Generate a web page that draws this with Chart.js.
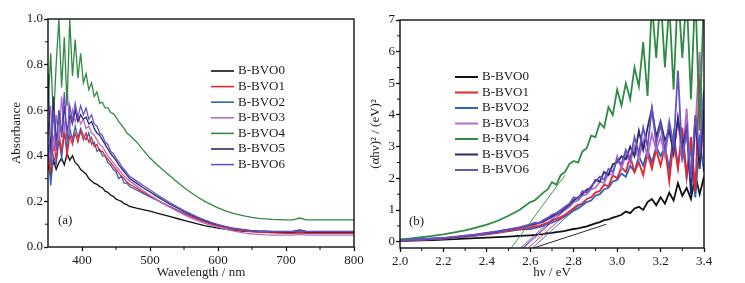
<!DOCTYPE html>
<html>
<head>
<meta charset="utf-8">
<script src="https://cdn.jsdelivr.net/npm/chart.js@4.4.1/dist/chart.umd.min.js"></script>
<style>
  body { margin: 0; background: #fff; }
  #wrap { position: relative; width: 745px; height: 283px; }
  canvas { position: absolute; top: 0; }
  #abs-chart { left: 0; }
  #tauc-chart { left: 362px; }
</style>
</head>
<body>
<div id="wrap">
  <canvas id="abs-chart" width="375" height="283"></canvas>
  <canvas id="tauc-chart" width="383" height="283"></canvas>
</div>
<script>
const seriesNames = ['B-BVO0', 'B-BVO1', 'B-BVO2', 'B-BVO3', 'B-BVO4', 'B-BVO5', 'B-BVO6']
const seriesColors = ['#111111', '#e3262c', '#2f62bd', '#b46cc9', '#2f8a43', '#2a2b6c', '#6553c4']
const drawOrder = [7, 5, 6, 4, 3, 2, 1]

// (a) absorbance vs wavelength (nm)
const wavelength = [350, 354, 358, 362, 366, 370, 374, 378, 382, 386, 390, 394, 398, 402, 406, 410, 414, 418, 422, 426,
  430, 434, 438, 442, 446, 450, 454, 458, 462, 466, 470,
  480, 490, 500, 510, 520, 530, 540, 550, 560, 570, 580, 590, 600, 610, 620, 630, 640, 650, 660, 670,
  680, 690, 700, 710, 720, 730, 740, 750, 760, 770, 780, 790, 800]

const absB0 = [0.36, 0.31, 0.38, 0.34, 0.37, 0.39, 0.36, 0.41, 0.38, 0.40, 0.37, 0.36, 0.34, 0.33, 0.32, 0.30, 0.29, 0.28, 0.275, 0.265,
  0.26, 0.245, 0.24, 0.228, 0.222, 0.21, 0.205, 0.20, 0.19, 0.186, 0.178,
  0.17, 0.164, 0.157, 0.149, 0.141, 0.133, 0.125, 0.117, 0.109, 0.101, 0.094, 0.088, 0.083, 0.078, 0.074, 0.071, 0.069, 0.067, 0.066, 0.065,
  0.064, 0.064, 0.064, 0.064, 0.066, 0.064, 0.064, 0.064, 0.064, 0.064, 0.064, 0.064, 0.064]
const absB1 = [0.40, 0.33, 0.47, 0.38, 0.50, 0.42, 0.52, 0.40, 0.49, 0.45, 0.50, 0.46, 0.51, 0.47, 0.50, 0.46, 0.48, 0.44, 0.45, 0.42,
  0.42, 0.40, 0.385, 0.37, 0.355, 0.34, 0.325, 0.31, 0.30, 0.285, 0.275,
  0.258, 0.24, 0.224, 0.207, 0.19, 0.175, 0.16, 0.146, 0.133, 0.121, 0.11, 0.10, 0.092, 0.085, 0.079, 0.074, 0.07, 0.067, 0.065, 0.063,
  0.062, 0.061, 0.06, 0.06, 0.062, 0.06, 0.06, 0.06, 0.06, 0.06, 0.06, 0.06, 0.06]
const absB2 = [0.45, 0.27, 0.40, 0.36, 0.47, 0.39, 0.50, 0.43, 0.52, 0.47, 0.53, 0.48, 0.52, 0.49, 0.47, 0.50, 0.45, 0.46, 0.42, 0.43,
  0.40, 0.40, 0.37, 0.36, 0.34, 0.33, 0.30, 0.31, 0.28, 0.28, 0.265,
  0.25, 0.235, 0.22, 0.205, 0.19, 0.176, 0.162, 0.149, 0.137, 0.125, 0.114, 0.104, 0.095, 0.088, 0.082, 0.077, 0.074, 0.071, 0.069, 0.068,
  0.067, 0.067, 0.067, 0.067, 0.072, 0.067, 0.067, 0.067, 0.067, 0.067, 0.067, 0.067, 0.067]
const absB3 = [0.50, 0.62, 0.42, 0.58, 0.47, 0.66, 0.50, 0.70, 0.52, 0.60, 0.55, 0.58, 0.54, 0.56, 0.52, 0.53, 0.50, 0.49, 0.47, 0.45,
  0.44, 0.42, 0.40, 0.385, 0.37, 0.355, 0.34, 0.325, 0.31, 0.30, 0.29,
  0.268, 0.247, 0.227, 0.208, 0.19, 0.173, 0.157, 0.142, 0.128, 0.116, 0.105, 0.095, 0.087, 0.079, 0.072, 0.066, 0.061, 0.057, 0.055, 0.053,
  0.052, 0.052, 0.052, 0.052, 0.055, 0.052, 0.052, 0.052, 0.052, 0.052, 0.052, 0.052, 0.052]
const absB4 = [0.60, 0.85, 0.55, 0.80, 1.0, 0.70, 0.92, 0.62, 1.0, 0.75, 0.91, 0.74, 0.85, 0.72, 0.76, 0.69, 0.72, 0.66, 0.68, 0.63,
  0.635, 0.61, 0.61, 0.59, 0.585, 0.57, 0.55, 0.535, 0.52, 0.50, 0.49,
  0.462, 0.425, 0.39, 0.362, 0.336, 0.31, 0.285, 0.261, 0.239, 0.219, 0.201, 0.186, 0.172, 0.16, 0.15, 0.142, 0.135, 0.13, 0.126, 0.123,
  0.121, 0.12, 0.119, 0.119, 0.127, 0.119, 0.119, 0.119, 0.119, 0.119, 0.119, 0.119, 0.119]
const absB5 = [0.76, 0.40, 0.66, 0.45, 0.60, 0.48, 0.62, 0.50, 0.58, 0.54, 0.60, 0.55, 0.58, 0.56, 0.57, 0.54, 0.55, 0.52, 0.50, 0.49,
  0.47, 0.45, 0.43, 0.41, 0.395, 0.38, 0.36, 0.345, 0.33, 0.315, 0.30,
  0.28, 0.26, 0.241, 0.222, 0.204, 0.187, 0.171, 0.156, 0.142, 0.129, 0.117, 0.106, 0.097, 0.09, 0.084, 0.079, 0.075, 0.072, 0.07, 0.069,
  0.068, 0.068, 0.068, 0.068, 0.075, 0.068, 0.068, 0.068, 0.068, 0.068, 0.068, 0.068, 0.068]
const absB6 = [0.55, 0.36, 0.60, 0.42, 0.58, 0.50, 0.68, 0.46, 0.62, 0.55, 0.63, 0.57, 0.62, 0.58, 0.61, 0.56, 0.58, 0.54, 0.53, 0.50,
  0.49, 0.46, 0.45, 0.42, 0.41, 0.39, 0.375, 0.355, 0.34, 0.325, 0.31,
  0.29, 0.27, 0.25, 0.23, 0.211, 0.193, 0.176, 0.16, 0.145, 0.131, 0.119, 0.108, 0.098, 0.09, 0.083, 0.078, 0.074, 0.071, 0.069, 0.068,
  0.067, 0.067, 0.067, 0.067, 0.071, 0.067, 0.067, 0.067, 0.067, 0.067, 0.067, 0.067, 0.067]
const absSeries = [absB0, absB1, absB2, absB3, absB4, absB5, absB6]

// (b) Tauc plot, (ahv)^2 vs hv (eV)
const energy = [2.0, 2.05, 2.1, 2.15, 2.2, 2.25, 2.3, 2.35, 2.4, 2.45, 2.5, 2.55,
  2.60, 2.62, 2.64, 2.66, 2.68, 2.70, 2.72, 2.74, 2.76, 2.78, 2.80, 2.82, 2.84, 2.86, 2.88, 2.90, 2.92, 2.94, 2.96, 2.98,
  3.00, 3.02, 3.04, 3.06, 3.08, 3.10, 3.12, 3.14, 3.16, 3.18, 3.20, 3.22, 3.24, 3.26, 3.28, 3.30, 3.32, 3.34, 3.36, 3.38, 3.40]

const taucB0 = [0.02, 0.03, 0.04, 0.05, 0.065, 0.08, 0.095, 0.11, 0.125, 0.145, 0.16, 0.18,
  0.2, 0.21, 0.23, 0.24, 0.27, 0.28, 0.3, 0.32, 0.34, 0.37, 0.4, 0.42, 0.45, 0.48, 0.53, 0.58, 0.62, 0.68, 0.7, 0.76,
  0.8, 0.85, 0.95, 0.9, 1.05, 1.1, 1.0, 1.25, 1.35, 1.15, 1.4, 1.2, 1.55, 1.3, 1.85, 1.45, 1.7, 1.35, 2.1, 1.5, 2.05]
const taucB1 = [0.03, 0.045, 0.06, 0.08, 0.1, 0.13, 0.16, 0.2, 0.24, 0.29, 0.34, 0.4,
  0.45, 0.48, 0.5, 0.55, 0.6, 0.68, 0.72, 0.78, 0.85, 0.95, 1.05, 1.15, 1.2, 1.35, 1.4, 1.55, 1.6, 1.8, 1.75, 2.1,
  2.0, 2.35, 2.2, 2.7, 2.2, 2.5, 2.1, 2.8, 2.3, 2.9, 2.4, 3.0, 1.9, 3.2, 2.3, 3.6, 2.1, 3.3, 1.6, 5.3, 2.8]
const taucB2 = [0.03, 0.045, 0.06, 0.08, 0.1, 0.125, 0.155, 0.19, 0.23, 0.28, 0.33, 0.38,
  0.4, 0.43, 0.46, 0.5, 0.55, 0.6, 0.66, 0.72, 0.8, 0.88, 0.98, 1.05, 1.15, 1.25, 1.3, 1.45, 1.5, 1.65, 1.7, 1.9,
  1.95, 2.15, 2.05, 2.4, 2.2, 2.7, 2.4, 2.9, 2.5, 3.0, 2.7, 3.0, 2.3, 3.4, 2.4, 3.3, 2.0, 3.0, 1.4, 3.2, 2.2]
const taucB3 = [0.04, 0.05, 0.07, 0.09, 0.11, 0.14, 0.17, 0.21, 0.26, 0.31, 0.37, 0.43,
  0.5, 0.54, 0.58, 0.62, 0.7, 0.76, 0.84, 0.9, 1.0, 1.1, 1.25, 1.3, 1.45, 1.5, 1.65, 1.7, 1.9, 1.85, 2.15, 2.1,
  2.7, 2.3, 2.75, 2.5, 3.0, 2.6, 3.2, 2.7, 3.4, 2.9, 3.3, 2.7, 3.6, 2.8, 3.9, 2.5, 4.2, 1.8, 3.5, 6.0, 2.6]
const taucB4 = [0.07, 0.1, 0.14, 0.18, 0.23, 0.29, 0.36, 0.44, 0.54, 0.66, 0.82, 1.0,
  1.25, 1.3, 1.42, 1.55, 1.65, 1.88, 1.8, 2.1, 2.2, 2.45, 2.55, 2.5, 2.85, 2.95, 3.35, 3.3, 3.75, 3.6, 4.25, 4.0,
  4.8, 4.3, 5.0, 4.5, 5.5, 4.9, 6.3, 4.6, 7.5, 5.8, 7.8, 5.5, 7.5, 4.8, 8.0, 5.8, 7.8, 4.5, 8.0, 3.5, 8.0]
const taucB5 = [0.04, 0.055, 0.075, 0.095, 0.115, 0.145, 0.18, 0.22, 0.27, 0.32, 0.38, 0.44,
  0.53, 0.56, 0.6, 0.64, 0.72, 0.8, 0.88, 0.95, 1.05, 1.15, 1.3, 1.4, 1.5, 1.65, 1.7, 1.95, 1.9, 2.2, 2.1, 2.45,
  2.5, 2.7, 2.6, 3.0, 2.7, 3.5, 2.9, 3.6, 4.2, 3.3, 3.8, 3.2, 3.5, 2.8, 3.9, 3.0, 3.6, 1.5, 3.9, 2.3, 4.2]
const taucB6 = [0.04, 0.06, 0.08, 0.1, 0.12, 0.15, 0.19, 0.23, 0.28, 0.33, 0.39, 0.45,
  0.55, 0.6, 0.58, 0.68, 0.75, 0.85, 0.9, 1.0, 1.1, 1.2, 1.4, 1.35, 1.6, 1.55, 1.75, 1.9, 2.05, 1.95, 2.3, 2.2,
  2.6, 2.45, 2.9, 2.6, 3.3, 2.8, 3.6, 3.0, 4.2, 3.1, 3.7, 2.9, 3.8, 3.0, 5.4, 2.6, 3.5, 2.0, 4.0, 2.8, 4.8]
const taucSeries = [taucB0, taucB1, taucB2, taucB3, taucB4, taucB5, taucB6]

// band-gap extrapolation lines, [hv, value] end points
const tangentB0 = [[2.615, -0.2], [2.95, 0.55]]
const tangentB1 = [[2.59, -0.2], [2.82, 1.2]]
const tangentB2 = [[2.61, -0.2], [2.85, 1.3]]
const tangentB3 = [[2.57, -0.2], [2.80, 1.25]]
const tangentB4 = [[2.512, -0.2], [2.76, 2.1]]
const tangentB5 = [[2.565, -0.2], [2.79, 1.2]]
const tangentB6 = [[2.555, -0.2], [2.78, 1.2]]
const tangents = [tangentB0, tangentB1, tangentB2, tangentB3, tangentB4, tangentB5, tangentB6]

const serif = '"Liberation Serif", "Times New Roman", serif'
const txt = '#1a1a1a'
const tickFont = { family: serif, size: 13 }

function seriesSet(i, xs, ys, width) {
  return {
    label: seriesNames[i],
    data: xs.map((x, k) => ({ x, y: ys[k] })),
    borderColor: seriesColors[i],
    borderWidth: width,
    pointRadius: 0,
    tension: 0,
    order: drawOrder[i],
    legendRow: i
  }
}

// frame, minor ticks, legend and panel tag
const panelDecor = {
  id: 'panelDecor',
  afterDraw(chart, args, opts) {
    const { ctx, chartArea: a, scales } = chart
    ctx.save()
    ctx.strokeStyle = '#111'
    ctx.lineWidth = 1.4
    ctx.strokeRect(a.left, a.top, a.right - a.left, a.bottom - a.top)
    ctx.lineWidth = 1
    ctx.beginPath()
    opts.minorX.forEach(v => {
      const px = scales.x.getPixelForValue(v)
      ctx.moveTo(px, a.bottom)
      ctx.lineTo(px, a.bottom + 3)
    })
    opts.minorY.forEach(v => {
      const py = scales.y.getPixelForValue(v)
      ctx.moveTo(a.left, py)
      ctx.lineTo(a.left - 3, py)
    })
    ctx.stroke()

    ctx.font = `13px ${serif}`
    ctx.textBaseline = 'middle'
    ctx.fillStyle = txt
    const lg = opts.legend
    chart.data.datasets.filter(d => d.legendRow !== undefined).forEach(d => {
      const y = lg.y + d.legendRow * lg.rowGap
      ctx.strokeStyle = d.borderColor
      ctx.lineWidth = lg.lineWidth
      ctx.beginPath()
      ctx.moveTo(lg.x, y)
      ctx.lineTo(lg.x + lg.lineLen, y)
      ctx.stroke()
      ctx.fillText(d.label, lg.x + lg.lineLen + 4, y)
    })
    ctx.fillText(opts.tag.text, opts.tag.x, opts.tag.y)
    ctx.restore()
  }
}

function axisX(min, max, step, digits, title, height) {
  return {
    type: 'linear', min, max,
    afterFit: s => { s.height = height },
    border: { display: false },
    grid: { drawOnChartArea: false, tickLength: 4, tickColor: '#111', tickWidth: 1.3 },
    ticks: { stepSize: step, includeBounds: false, maxRotation: 0, autoSkip: false, padding: 2, color: txt, font: tickFont,
      callback: v => v.toFixed(digits) },
    title: { display: true, text: title, color: txt, font: tickFont, padding: { top: 0, bottom: 3 } }
  }
}

function axisY(min, max, step, digits, title, width, titlePad) {
  return {
    min, max,
    afterFit: s => { s.width = width },
    border: { display: false },
    grid: { drawOnChartArea: false, tickLength: 4, tickColor: '#111', tickWidth: 1.3 },
    ticks: { stepSize: step, includeBounds: false, padding: 1, color: txt, font: tickFont,
      callback: v => v.toFixed(digits) },
    title: { display: true, text: title, color: txt, font: tickFont, padding: { top: titlePad, bottom: 0 } }
  }
}

const absChart = new Chart(document.getElementById('abs-chart'), {
  type: 'line',
  data: { datasets: absSeries.map((ys, i) => seriesSet(i, wavelength, ys, 1.3)) },
  options: {
    responsive: false,
    animation: false,
    layout: { padding: { left: 0, right: 21, top: 19, bottom: 0 } },
    plugins: {
      legend: { display: false },
      tooltip: { enabled: false },
      panelDecor: {
        minorX: [450, 550, 650, 750],
        minorY: [0.1, 0.3, 0.5, 0.7, 0.9],
        legend: { x: 211, y: 71, rowGap: 15.6, lineLen: 23, lineWidth: 1.6 },
        tag: { text: '(a)', x: 58, y: 221 }
      }
    },
    scales: {
      x: axisX(350, 800, 100, 0, 'Wavelength / nm', 36),
      y: axisY(0, 1, 0.2, 1, 'Absorbance', 48, 9)
    }
  },
  plugins: [panelDecor]
})

const taucSets = taucSeries.map((ys, i) => seriesSet(i, energy, ys, 1.8))
tangents.forEach((pts, i) => {
  taucSets.push({
    data: pts.map(p => ({ x: p[0], y: p[1] })),
    borderColor: seriesColors[i],
    borderWidth: 0.9,
    pointRadius: 0,
    order: 0
  })
})

const taucChart = new Chart(document.getElementById('tauc-chart'), {
  type: 'line',
  data: { datasets: taucSets },
  options: {
    responsive: false,
    animation: false,
    layout: { padding: { left: 0, right: 41, top: 20, bottom: 0 } },
    plugins: {
      legend: { display: false },
      tooltip: { enabled: false },
      panelDecor: {
        minorX: [2.1, 2.3, 2.5, 2.7, 2.9, 3.1, 3.3],
        minorY: [0.5, 1.5, 2.5, 3.5, 4.5, 5.5, 6.5],
        legend: { x: 93, y: 77, rowGap: 15.5, lineLen: 23, lineWidth: 2 },
        tag: { text: '(b)', x: 47, y: 222 }
      }
    },
    scales: {
      x: axisX(2.0, 3.4, 0.2, 1, 'h\u03bd / eV', 35),
      y: axisY(-0.2, 7, 1, 0, '(\u03b1h\u03bd)\u00b2 / (eV)\u00b2', 38, 6)
    }
  },
  plugins: [panelDecor]
})
</script>
</body>
</html>
